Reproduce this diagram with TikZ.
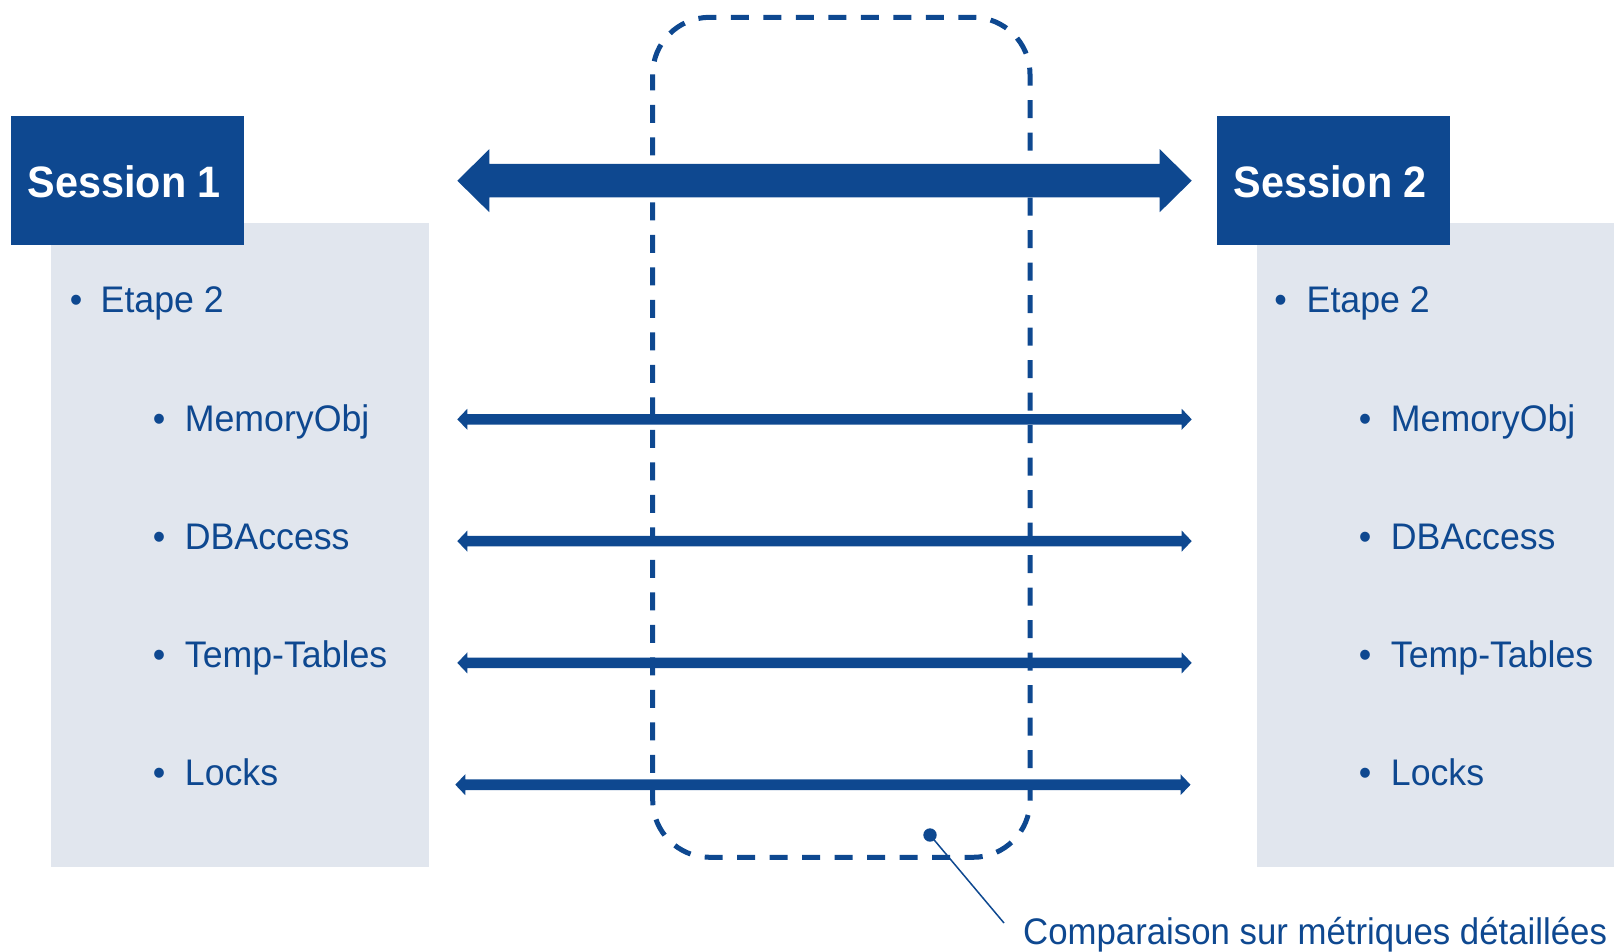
\documentclass[tikz,border=0pt]{standalone}
\usepackage{fontspec}
\setmainfont[FakeStretch=0.94]{Liberation Sans}
\newfontfamily\itemfont[FakeStretch=0.965]{Liberation Sans}
\usetikzlibrary{calc}
\definecolor{navy}{HTML}{0E4890}
\definecolor{panel}{HTML}{E1E6EE}
\newcommand{\dblarr}[5]{%
  \fill[navy] (#1) -- ($(#1)+(#5,-#4)$) -- ($(#1)+(#5,-#3)$) -- ($(#2)+(-#5,-#3)$) -- ($(#2)+(-#5,-#4)$) -- (#2)
   -- ($(#2)+(-#5,#4)$) -- ($(#2)+(-#5,#3)$) -- ($(#1)+(#5,#3)$) -- ($(#1)+(#5,#4)$) -- cycle;}
\tikzset{
  head/.style={fill=navy, text=white, font=\fontsize{44}{48}\selectfont\bfseries, inner sep=0pt},
  item/.style={text=navy, font=\itemfont\fontsize{37}{40}\selectfont, inner sep=0pt, anchor=base west},
  captxt/.style={text=navy, font=\fontsize{37}{40}\selectfont, inner sep=0pt, anchor=base west},
  bul/.style={text=navy, font=\itemfont\fontsize{37}{40}\selectfont, inner sep=0pt, anchor=base},
}
\begin{document}
\begin{tikzpicture}[x=1pt,y=-1pt]
\useasboundingbox (0,0) rectangle (1614,952);
% panels
\fill[panel] (51,223) rectangle (429,867);
\fill[panel] (1257,223) rectangle (1614,867);
% header boxes
\fill[navy] (11,116) rectangle (244,245);
\fill[navy] (1217,116) rectangle (1450,245);
\node[head, anchor=base west] (s1) at (27.5,197.3) {Session 1};
\node[head, anchor=base west] (s2) at (1233.5,197.3) {Session 2};
% left list
\node[bul] (b1) at (76,312) {•};
\node[item] (e1) at (100.5,312) {Etape 2};
\node[bul] at (159,431.7) {•};
\node[item] (m1) at (184.7,431.7) {MemoryObj};
\node[bul] at (159,549.5) {•};
\node[item] (d1) at (184.7,549.5) {DBAccess};
\node[bul] at (159,667.3) {•};
\node[item] (t1) at (184.7,667.3) {Temp-Tables};
\node[bul] at (159,785) {•};
\node[item] (l1) at (184.7,785) {Locks};
% right list
\node[bul] (b2) at (1280.7,312) {•};
\node[item] (e2) at (1306.5,312) {Etape 2};
\node[bul] at (1365,431.7) {•};
\node[item] (m2) at (1390.7,431.7) {MemoryObj};
\node[bul] at (1365,549.5) {•};
\node[item] (d2) at (1390.7,549.5) {DBAccess};
\node[bul] at (1365,667.3) {•};
\node[item] (t2) at (1390.7,667.3) {Temp-Tables};
\node[bul] at (1365,785) {•};
\node[item] (l2) at (1390.7,785) {Locks};
% arrow endpoints
\coordinate (A0l) at (457.3,180.7); \coordinate (A0r) at (1191.7,180.7);
\coordinate (A1l) at (457.3,419.3); \coordinate (A1r) at (1191.7,419.3);
\coordinate (A2l) at (457.3,541.1); \coordinate (A2r) at (1191.7,541.1);
\coordinate (A3l) at (457.3,662.9); \coordinate (A3r) at (1191.7,662.9);
\coordinate (A4l) at (455.3,784.7); \coordinate (A4r) at (1190.5,784.7);
\dblarr{A0l}{A0r}{16.7}{31.5}{32}
\dblarr{A1l}{A1r}{5.3}{10.5}{10}
\dblarr{A2l}{A2r}{5.3}{10.5}{10}
\dblarr{A3l}{A3r}{5.3}{10.5}{10}
\dblarr{A4l}{A4r}{5.3}{10.5}{10}
% dashed frame
\draw[navy, line width=5pt, rounded corners=57pt, dash pattern=on 18pt off 14.5pt, dash phase=2pt]
  (652.7,17.3) rectangle (1030,857.3);
% callout
\fill[navy] (930,835) circle (6.7pt);
\coordinate (dot) at (930,835);
\coordinate (cend) at (1004,923);
\draw[navy, line width=1.5pt] (dot) -- (cend);
\node[captxt] (cap) at (1023,944) {Comparaison sur métriques détaillées};
\end{tikzpicture}
\end{document}
